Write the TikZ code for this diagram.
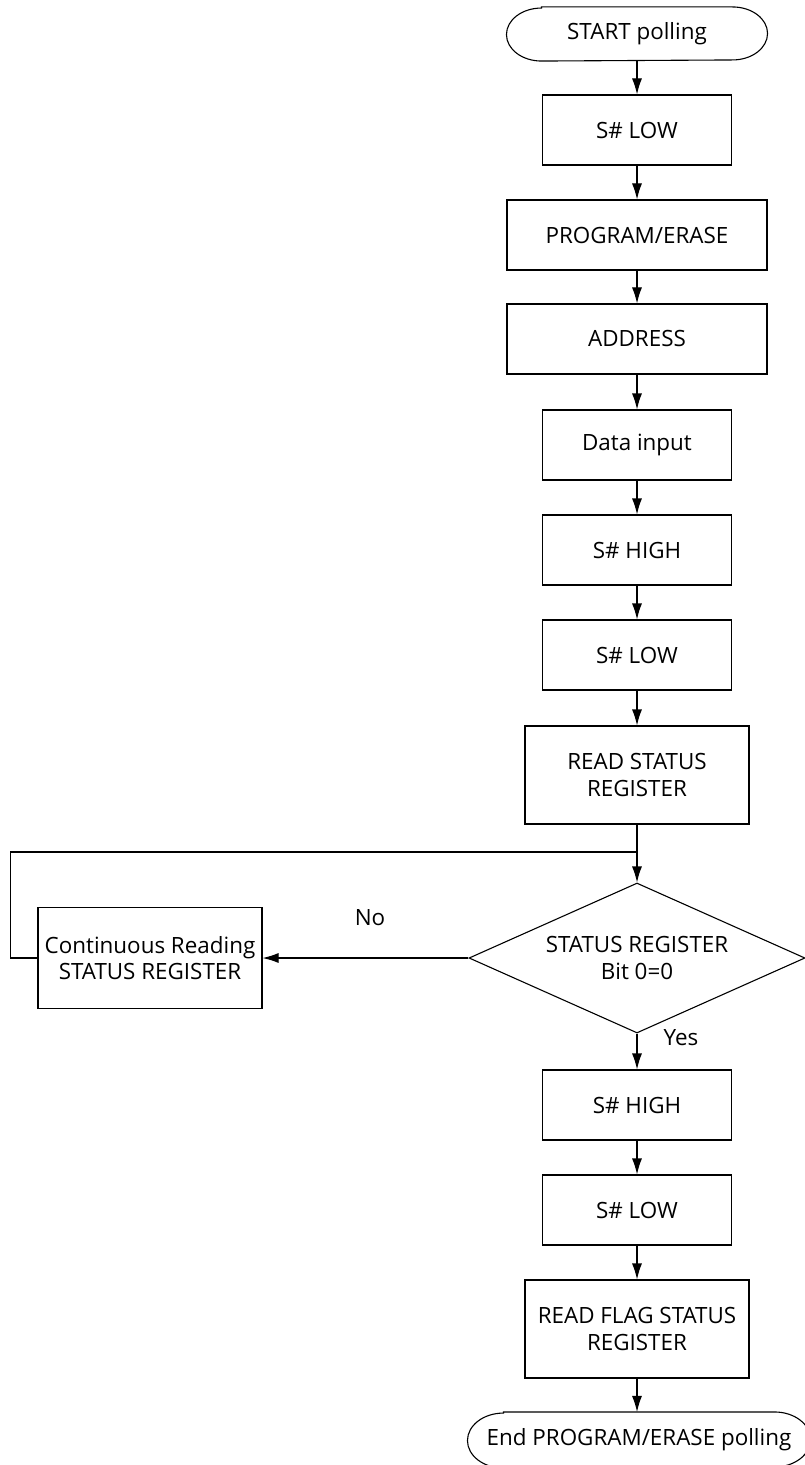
\documentclass[tikz,border=0pt]{standalone}
\usepackage{fontspec}
\setmainfont{Open Sans}
\usetikzlibrary{arrows.meta,shapes.geometric}

\begin{document}
\begin{tikzpicture}[x=0.5pt,y=-0.5pt,line width=0.55pt,
    every node/.style={font=\fontsize{11.2}{13.2}\selectfont},
    stepbox/.style={draw,rectangle,align=center,inner sep=0pt,minimum width=94.5pt,minimum height=35pt},
    widebox/.style={stepbox,minimum width=130pt},
    twoline/.style={stepbox,minimum width=112pt,minimum height=49pt},
    termbox/.style={rectangle,inner sep=0pt},
    check/.style={draw,diamond,inner sep=0pt,minimum width=168pt,minimum height=75pt},
    flow/.style={-{Latex[length=8pt,width=5pt]}}]
    \useasboundingbox (0,0) rectangle (804,1465);
    % main column
    \node[termbox,minimum width=130pt,minimum height=26.5pt] (start) at (637,34) {START polling};
    \node[stepbox] (low1) at (637,130) {S\# LOW};
    \node[widebox] (prog) at (637,235) {PROGRAM/ERASE};
    \node[widebox] (addr) at (637,339) {ADDRESS};
    \node[stepbox] (data) at (637,445) {Data input};
    \node[stepbox] (high1) at (637,550) {S\# HIGH};
    \node[stepbox] (low2) at (637,655) {S\# LOW};
    \node[twoline] (rsr) at (637,775) {READ STATUS\\ REGISTER};
    \node[check] (test) at (637,958) {};
    \node[align=center] (testtext) at (test) {STATUS REGISTER\\Bit 0=0};
    \node[stepbox] (high2) at (637,1105) {S\# HIGH};
    \node[stepbox] (low3) at (637,1210) {S\# LOW};
    \node[twoline] (rfsr) at (637,1329) {READ FLAG STATUS\\ REGISTER};
    \node[termbox,minimum width=171pt,minimum height=27.5pt] (stop) at (639,1440) {End PROGRAM/ERASE polling};
    % terminal outlines
    \draw ([xshift=17.5pt]start.north west) -- ([xshift=-17.5pt]start.north east)
      arc[start angle=90,end angle=-90,x radius=17.5pt,y radius=13.25pt]
      -- ([xshift=17.5pt]start.south west)
      arc[start angle=270,end angle=90,x radius=17.5pt,y radius=13.25pt] -- cycle;
    \draw ([xshift=18pt]stop.north west) -- ([xshift=-18pt]stop.north east)
      arc[start angle=90,end angle=-90,x radius=18pt,y radius=13.75pt]
      -- ([xshift=18pt]stop.south west)
      arc[start angle=270,end angle=90,x radius=18pt,y radius=13.75pt] -- cycle;
    % polling loop
    \node[twoline,minimum height=50.5pt] (cont) at (150,958) {Continuous Reading\\STATUS REGISTER};
    \coordinate (join) at (637,852);
    \node (no) at (370,918) {No};
    \node[anchor=west,inner sep=0pt] (yes) at (663,1038) {Yes};

    \foreach \a/\b in {start/low1,low1/prog,prog/addr,addr/data,data/high1,high1/low2,low2/rsr,rsr/test,test/high2,high2/low3,low3/rfsr}
      \draw[flow] (\a) -- (\b);
    \draw[flow] (rfsr) -- (rfsr |- stop.north);
    \draw[flow] (test.west) -- (cont.east);
    \draw (cont.west) -- ++(-27,0) |- (join);
  \end{tikzpicture}
\end{document}
